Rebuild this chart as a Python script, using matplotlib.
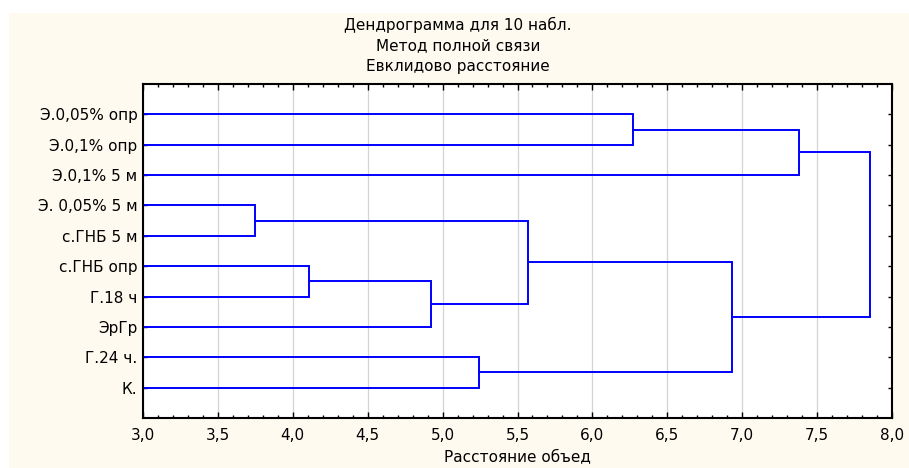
import matplotlib.pyplot as plt
from matplotlib.patches import Rectangle
from matplotlib.ticker import MultipleLocator

plt.rcParams['font.family'] = ['DejaVu Sans']

# leaf labels, top to bottom
labels = ['Э.0,05% опр', 'Э.0,1% опр', 'Э.0,1% 5 м', 'Э. 0,05% 5 м', 'с.ГНБ 5 м',
          'с.ГНБ опр', 'Г.18 ч', 'ЭрГр', 'Г.24 ч.', 'К.']

# merge steps: leaves are nodes 0..9, step k creates node 10 + k
merge_a = [0, 10, 3, 5, 13, 12, 8, 15, 11]
merge_b = [1, 2, 4, 6, 7, 14, 9, 16, 17]
merge_h = [6.27, 7.38, 3.75, 4.11, 4.92, 5.57, 5.24, 6.93, 7.85]

title_lines = ['Дендрограмма для 10 набл.', 'Метод полной связи', 'Евклидово расстояние']

fs = 11

fig = plt.figure(figsize=(9.09, 4.68), dpi=100, facecolor='white')
fig.patches.append(Rectangle((9 / 909, 0), 1, 1 - 13 / 468, transform=fig.transFigure,
                             facecolor='#fffaf0', edgecolor='none', zorder=-10))

ax = fig.add_axes([143 / 909, 1 - 418 / 468, 749 / 909, 334 / 468])
ax.set_facecolor('white')

# leaves sit at y = 1..10 and start at the left edge (3.0)
ypos = {i: i + 1 for i in range(len(labels))}
xpos = {i: 3.0 for i in range(len(labels))}
for k, (a, b, h) in enumerate(zip(merge_a, merge_b, merge_h)):
    ax.plot([xpos[a], h, h, xpos[b]], [ypos[a], ypos[a], ypos[b], ypos[b]],
            color='#0000ff', lw=1.4, solid_joinstyle='miter')
    node = len(labels) + k
    ypos[node] = (ypos[a] + ypos[b]) / 2
    xpos[node] = h

ax.set_xlim(3.0, 8.0)
ax.set_ylim(11, 0)
ax.xaxis.set_major_locator(MultipleLocator(0.5))
ax.xaxis.set_minor_locator(MultipleLocator(0.1))
ax.set_xticks(ax.get_xticks())
ax.set_xticklabels([f'{v:.1f}'.replace('.', ',') for v in ax.get_xticks()])
ax.set_xlim(3.0, 8.0)
ax.set_yticks(range(1, len(labels) + 1))
ax.set_yticklabels(labels)
ax.grid(axis='x', which='major', color='#d4d4d4', lw=0.9)
ax.set_axisbelow(True)

ax.tick_params(axis='x', which='both', direction='in', top=True, labelsize=fs, pad=7)
ax.tick_params(axis='x', which='major', length=4, width=1)
ax.tick_params(axis='x', which='minor', length=2.5, width=1)
ax.tick_params(axis='y', direction='in', right=True, length=3, width=1, labelsize=fs, pad=4)
for s in ax.spines.values():
    s.set_linewidth(1.5)

ax.set_xlabel('Расстояние объед', fontsize=fs, labelpad=5)

for line, y in zip(title_lines, [25, 46, 67]):
    fig.text(458 / 909, 1 - y / 468, line, ha='center', va='center', fontsize=fs)

fig.savefig('out.png', dpi=100, facecolor=fig.get_facecolor())
